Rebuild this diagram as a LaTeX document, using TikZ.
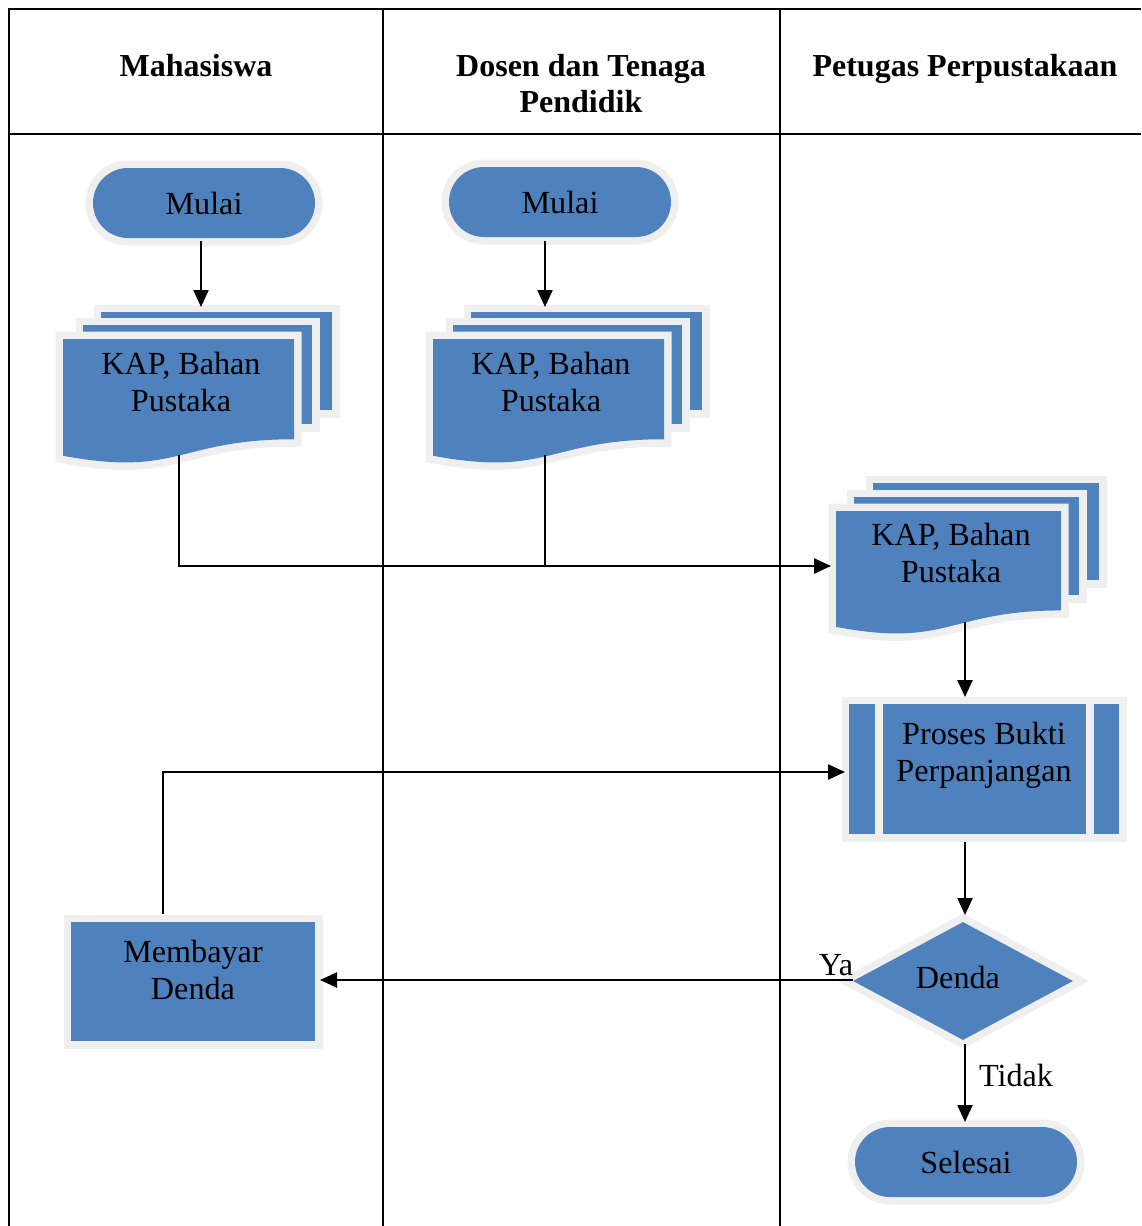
\documentclass[tikz,border=0pt]{standalone}
\usepackage{fontspec}
\setmainfont{Liberation Serif}
\usetikzlibrary{arrows.meta,shapes.geometric}
\definecolor{blu}{HTML}{4F81BD}
\definecolor{edge}{HTML}{EFEFEF}

% Office-style document outline: #1,#2 = top-left corner, #3 = width, #4 = height
\newcommand\docshape[4]{%
  (#1,#2) -- (#1+#3,#2) -- (#1+#3,#2+0.802*#4)
  .. controls (#1+0.5*#3,#2+0.802*#4) and (#1+0.5*#3,#2+1.1075*#4) ..
  (#1,#2+0.934*#4) -- cycle}

\begin{document}
\begin{tikzpicture}[x=1pt,y=-1pt,
  shp/.style={preaction={draw=edge,line width=15pt},fill=blu},
  txt/.style={font=\fontsize{32.2}{37}\selectfont,align=center,inner sep=0pt},
  head/.style={font=\fontsize{32}{36}\selectfont\bfseries,align=center,inner sep=0pt},
  term/.style={shp,rectangle,rounded corners=35pt,minimum width=222pt,minimum height=70pt,inner sep=0pt,txt},
  grid/.style={line width=2.5pt},
  link/.style={line width=2.4pt},
  flow/.style={line width=2.4pt,-{Triangle[length=17pt,width=15pt]}}
]
\useasboundingbox (0,0) rectangle (1141,1226);

% lanes
\draw[grid] (1141,9) -- (9,9) -- (9,1226);
\draw[grid] (9,134) -- (1141,134);
\draw[grid] (383,9) -- (383,1226);
\draw[grid] (780,9) -- (780,1226);
\node[head] (h1) at (196,66) {Mahasiswa};
\node[head] (h2) at (581,84) {Dosen dan Tenaga\\Pendidik};
\node[head] (h3) at (965,69) {Petugas Perpustakaan};

% start terminals
\node[term] (m1) at (204,203) {Mulai};
\node[term] (m2) at (560,202) {Mulai};

% document stacks
\path[shp] (101,312) rectangle (332,410);
\path[shp] (83,325) rectangle (312,424);
\path[shp] \docshape{63}{339}{231}{125};
\node[txt] (d1) at (181,382) {KAP, Bahan\\Pustaka};

\path[shp] (471,312) rectangle (702,410);
\path[shp] (453,325) rectangle (682,424);
\path[shp] \docshape{433}{339}{231}{125};
\node[txt] (d2) at (551,382) {KAP, Bahan\\Pustaka};

\path[shp] (873,483) rectangle (1099,580);
\path[shp] (854,497) rectangle (1079,595);
\path[shp] \docshape{836}{511}{225}{124};
\node[txt] (d3) at (951,553) {KAP, Bahan\\Pustaka};

% predefined process
\node[shp,rectangle,minimum width=270pt,minimum height=130pt,inner sep=0pt] (proc) at (984,769) {};
\draw[edge,line width=8pt] (879,704) -- (879,834) (1090,704) -- (1090,834);
\node[txt] (proct) at (984,755) {Proses Bukti\\Perpanjangan};

% decision
\node[shp,diamond,minimum width=220pt,minimum height=118pt,aspect=1.86,inner sep=0pt] (dec) at (963,981) {};
\node[txt] (dect) at (958,977) {Denda};

% payment
\node[shp,rectangle,minimum width=244pt,minimum height=119pt,inner sep=0pt] (pay) at (193,981.5) {};
\node[txt] (payt) at (193,970) {Membayar\\Denda};

% end terminal
\node[term] (sel) at (966,1162) {Selesai};

% connector end points
\coordinate (m1o) at (201,241);   \coordinate (d1i) at (201,307);
\coordinate (m2o) at (545,241);   \coordinate (d2i) at (545,307);
\coordinate (d1o) at (179,455);   \coordinate (d2o) at (545,455);
\coordinate (d3i) at (831,566);
\coordinate (d3o) at (965,622);   \coordinate (proci) at (965,697);
\coordinate (payo) at (163,914);  \coordinate (procl) at (845,772);
\coordinate (proco) at (965,842); \coordinate (deci) at (965,915);
\coordinate (decl) at (853,980);  \coordinate (payi) at (320,980);
\coordinate (deco) at (965,1044); \coordinate (seli) at (965,1122);

% connectors
\draw[flow] (m1o) -- (d1i);
\draw[flow] (m2o) -- (d2i);
\draw[flow] (d1o) |- (d3i);
\draw[link] (d2o) -- (d2o |- d3i);
\draw[flow] (d3o) -- (proci);
\draw[flow] (payo) |- (procl);
\draw[flow] (proco) -- (deci);
\draw[flow] (decl) -- (payi);
\draw[flow] (deco) -- (seli);

% branch labels
\node[txt] (ya) at (836,965) {Ya};
\node[txt] (tidak) at (1016,1075) {Tidak};
\end{tikzpicture}
\end{document}
